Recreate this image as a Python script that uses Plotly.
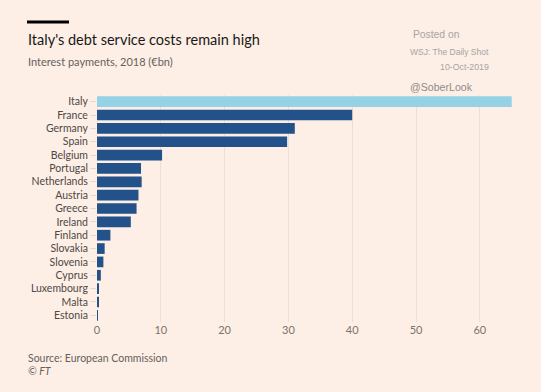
import plotly.graph_objects as go

countries = ["Italy", "France", "Germany", "Spain", "Belgium", "Portugal", "Netherlands",
             "Austria", "Greece", "Ireland", "Finland", "Slovakia", "Slovenia", "Cyprus",
             "Luxembourg", "Malta", "Estonia"]
interest_bn = [65.0, 40.0, 31.0, 29.8, 10.2, 6.9, 7.0, 6.5, 6.2, 5.3, 2.1, 1.2, 1.0, 0.6, 0.2, 0.2, 0.05]
x_ticks = [0, 10, 20, 30, 40, 50, 60]

colors = ["#96d2e6" if c == "Italy" else "#235189" for c in countries]

fig = go.Figure(go.Bar(
    x=interest_bn, y=countries, orientation="h",
    marker=dict(color=colors, line=dict(width=0)),
))

font_family = "Lato, 'Noto Sans', sans-serif"
bg = "#fdefe6"

L, R, T, B = 97, 28, 95, 70
W, H = 541, 392
pw = W - L - R
ph = H - T - B
def px(x):
    return (x - L) / pw
def py(y):
    return (H - B - y) / ph

fig.update_layout(
    width=W, height=H,
    paper_bgcolor=bg, plot_bgcolor=bg,
    margin=dict(l=L, r=R, t=T, b=B, autoexpand=False),
    bargap=0.2,
    showlegend=False,
    font=dict(family=font_family, color="#4d4845", size=11),
    xaxis=dict(range=[0, 65.2], tickvals=x_ticks, showgrid=True, gridcolor="#ecdfd6",
               gridwidth=1, zeroline=False, showline=False, ticks="",
               tickfont=dict(size=11, color="#7a736e"), fixedrange=True),
    yaxis=dict(categoryorder="array", categoryarray=countries[::-1], autorange=True,
               ticks="outside", ticklen=6, tickcolor="#e3d6cd", showgrid=False,
               tickfont=dict(size=10.5, color="#4d4845"), showline=False, zeroline=False,
               fixedrange=True),
    shapes=[dict(type="rect", xref="paper", yref="paper",
                 x0=px(27), x1=px(69), y0=py(23.5), y1=py(20.5),
                 fillcolor="#000000", line=dict(width=0))],
)

sans = "'Liberation Sans', Arial, sans-serif"
annots = [
    dict(text="Italy's debt service costs remain high", x=px(26), y=py(39),
         font=dict(size=14.5, color="#1a1817"), xanchor="left"),
    dict(text="Interest payments, 2018 (€bn)", x=px(26), y=py(62),
         font=dict(size=11, color="#66605c"), xanchor="left"),
    dict(text="Source: European Commission", x=px(26), y=py(358),
         font=dict(size=10.5, color="#66605c"), xanchor="left"),
    dict(text="<i>© FT</i>", x=px(26), y=py(371),
         font=dict(size=10.5, color="#66605c"), xanchor="left"),
    dict(text="Posted on", x=px(411), y=py(35),
         font=dict(size=10.3, color="#a8a4a2", family=sans), xanchor="left"),
    dict(text="WSJ: The Daily Shot", x=px(491), y=py(52),
         font=dict(size=8.5, color="#a8a4a2", family=sans), xanchor="right"),
    dict(text="10-Oct-2019", x=px(491), y=py(67),
         font=dict(size=8.8, color="#a8a4a2", family=sans), xanchor="right"),
    dict(text="@SoberLook", x=px(408), y=py(87),
         font=dict(size=10.6, color="#8f8b89", family=sans), xanchor="left"),
]
for a in annots:
    fig.add_annotation(xref="paper", yref="paper", showarrow=False, yanchor="middle", **a)

fig.write_html("out.html", config={"displayModeBar": False},
               post_script="document.body.style.margin='0';document.body.style.background='%s';" % bg)
